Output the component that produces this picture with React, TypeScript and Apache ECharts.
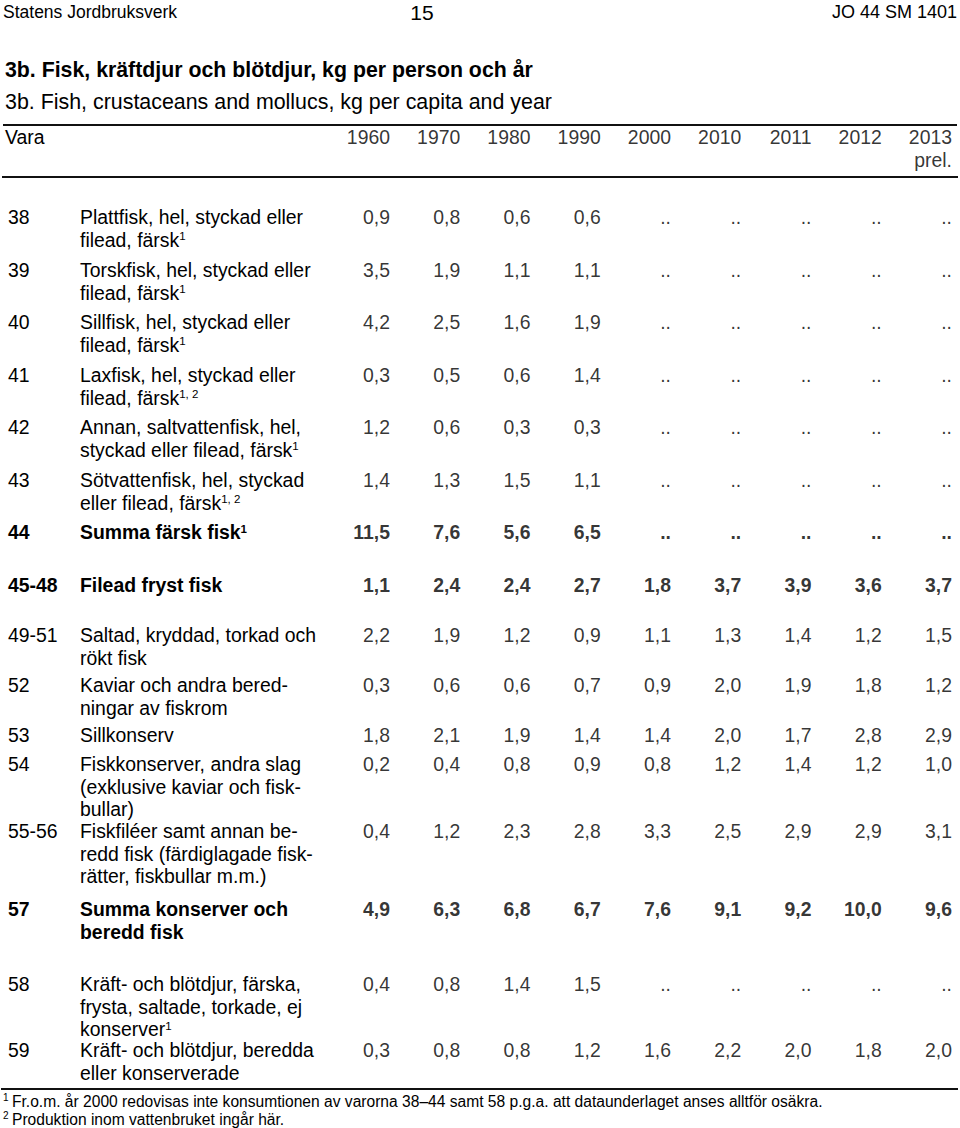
import React, { useEffect, useRef } from "react";
import * as echarts from "echarts";

// ---------- data ----------
const years = ["1960", "1970", "1980", "1990", "2000", "2010", "2011", "2012", "2013"];
const yearNotes = ["", "", "", "", "", "", "", "", "prel."];

const codes = ["38", "39", "40", "41", "42", "43", "44", "45-48", "49-51", "52", "53", "54", "55-56", "57", "58", "59"];

const itemLines = [
  ["Plattfisk, hel, styckad eller", "filead, färsk"],
  ["Torskfisk, hel, styckad eller", "filead, färsk"],
  ["Sillfisk, hel, styckad eller", "filead, färsk"],
  ["Laxfisk, hel, styckad eller", "filead, färsk"],
  ["Annan, saltvattenfisk, hel,", "styckad eller filead, färsk"],
  ["Sötvattenfisk, hel, styckad", "eller filead, färsk"],
  ["Summa färsk fisk"],
  ["Filead fryst fisk"],
  ["Saltad, kryddad, torkad och", "rökt fisk"],
  ["Kaviar och andra bered-", "ningar av fiskrom"],
  ["Sillkonserv"],
  ["Fiskkonserver, andra slag", "(exklusive kaviar och fisk-", "bullar)"],
  ["Fiskfiléer samt annan be-", "redd fisk (färdiglagade fisk-", "rätter, fiskbullar m.m.)"],
  ["Summa konserver och", "beredd fisk"],
  ["Kräft- och blötdjur, färska,", "frysta, saltade, torkade, ej", "konserver"],
  ["Kräft- och blötdjur, beredda", "eller konserverade"],
];
const itemNotes = ["1", "1", "1", "1, 2", "1", "1, 2", "1", "", "", "", "", "", "", "", "1", ""];
const boldCodes = ["44", "45-48", "57"];

const v38 = [0.9, 0.8, 0.6, 0.6, null, null, null, null, null];
const v39 = [3.5, 1.9, 1.1, 1.1, null, null, null, null, null];
const v40 = [4.2, 2.5, 1.6, 1.9, null, null, null, null, null];
const v41 = [0.3, 0.5, 0.6, 1.4, null, null, null, null, null];
const v42 = [1.2, 0.6, 0.3, 0.3, null, null, null, null, null];
const v43 = [1.4, 1.3, 1.5, 1.1, null, null, null, null, null];
const v44 = [11.5, 7.6, 5.6, 6.5, null, null, null, null, null];
const v45_48 = [1.1, 2.4, 2.4, 2.7, 1.8, 3.7, 3.9, 3.6, 3.7];
const v49_51 = [2.2, 1.9, 1.2, 0.9, 1.1, 1.3, 1.4, 1.2, 1.5];
const v52 = [0.3, 0.6, 0.6, 0.7, 0.9, 2.0, 1.9, 1.8, 1.2];
const v53 = [1.8, 2.1, 1.9, 1.4, 1.4, 2.0, 1.7, 2.8, 2.9];
const v54 = [0.2, 0.4, 0.8, 0.9, 0.8, 1.2, 1.4, 1.2, 1.0];
const v55_56 = [0.4, 1.2, 2.3, 2.8, 3.3, 2.5, 2.9, 2.9, 3.1];
const v57 = [4.9, 6.3, 6.8, 6.7, 7.6, 9.1, 9.2, 10.0, 9.6];
const v58 = [0.4, 0.8, 1.4, 1.5, null, null, null, null, null];
const v59 = [0.3, 0.8, 0.8, 1.2, 1.6, 2.2, 2.0, 1.8, 2.0];
const rowValues = [v38, v39, v40, v41, v42, v43, v44, v45_48, v49_51, v52, v53, v54, v55_56, v57, v58, v59];

const pageLeft = "Statens Jordbruksverk";
const pageNumber = "15";
const pageRight = "JO 44 SM 1401";
const titleSv = "3b. Fisk, kräftdjur och blötdjur, kg per person och år";
const titleEn = "3b. Fish, crustaceans and mollucs, kg per capita and year";
const headLabel = "Vara";
const footnotes = [
  ["1", "Fr.o.m. år 2000 redovisas inte konsumtionen av varorna 38\u201344 samt 58 p.g.a. att dataunderlaget anses alltför osäkra."],
  ["2", "Produktion inom vattenbruket ingår här."],
];

// ---------- layout ----------
const W = 960;
const H = 1128;
const FONT = '"Liberation Sans", Arial, Helvetica, sans-serif';
const BODY = 19.4;
const rowY = [217, 270, 322, 375, 427, 480, 532, 585, 635, 685, 735, 764, 831, 909, 984, 1050];
const LINE_GAP = 22.5;

function fmt(v: number | null) {
  return v == null ? ".." : v.toFixed(1).replace(".", ",");
}

function txt(x: number, y: number, text: string, o: any = {}) {
  const align = o.align || "left";
  return {
    type: "text",
    x,
    y,
    silent: true,
    style: {
      text,
      fill: "#000",
      fontSize: o.size || BODY,
      fontFamily: FONT,
      fontWeight: o.bold ? "bold" : "normal",
      align,
      textAlign: align,
      verticalAlign: "middle",
      textVerticalAlign: "middle",
      rich: {
        sup: {
          fontSize: o.supSize || 11.5,
          fontFamily: FONT,
          fontWeight: o.bold ? "bold" : "normal",
          fill: "#000",
          verticalAlign: "top",
          lineHeight: 11,
        },
      },
    },
  };
}

function rule(y: number, x1: number, x2: number) {
  return {
    type: "line",
    silent: true,
    shape: { x1, y1: y, x2, y2: y },
    style: { stroke: "#111", lineWidth: 2 },
  };
}

export default function App() {
  const ref = useRef<HTMLDivElement>(null);

  useEffect(() => {
    if (!ref.current) return;
    const chart = echarts.init(ref.current, null, { renderer: "svg" });

    const graphics: any[] = [];
    graphics.push(txt(3, 12, pageLeft, { size: 17.5 }));
    graphics.push(txt(422, 12, pageNumber, { size: 21, align: "center" }));
    graphics.push(txt(957, 12, pageRight, { size: 18, align: "right" }));
    graphics.push(txt(5, 70, titleSv, { size: 21.3, bold: true }));
    graphics.push(txt(5, 102, titleEn, { size: 21.4 }));
    graphics.push(rule(125, 3, 957));
    graphics.push(txt(5, 137, headLabel, { size: BODY }));
    graphics.push(rule(177, 2, 958));

    codes.forEach((code, r) => {
      const bold = boldCodes.includes(code);
      graphics.push(txt(8, rowY[r], code, { bold }));
      const lines = itemLines[r];
      lines.forEach((line, li) => {
        const note = li === lines.length - 1 && itemNotes[r] ? `{sup|${itemNotes[r]}}` : "";
        graphics.push(txt(80, rowY[r] + li * LINE_GAP, line + note, { bold }));
      });
    });

    graphics.push(rule(1089, 1, 958));
    footnotes.forEach(([mark, text], i) => {
      const y = 1101 + i * 18;
      graphics.push(txt(3, y - 4, mark, { size: 10 }));
      graphics.push(txt(12, y, text, { size: 15.6 }));
    });

    const cellData: any[] = [];
    rowValues.forEach((vals, r) => {
      const bold = boldCodes.includes(codes[r]);
      vals.forEach((v, c) => {
        cellData.push({
          value: [c, rowY[r]],
          text: fmt(v),
          label: { fontWeight: bold ? "bold" : "normal" },
        });
      });
    });

    const headData: any[] = [];
    years.forEach((y, c) => {
      headData.push({ value: [c, 137], text: y });
      if (yearNotes[c]) headData.push({ value: [c, 160], text: yearNotes[c] });
    });

    const labelBase = {
      show: true,
      position: "inside",
      align: "right",
      verticalAlign: "middle",
      color: "#000",
      fontSize: BODY,
      fontFamily: FONT,
      formatter: (p: any) => p.data.text,
    };

    chart.setOption({
      animation: false,
      backgroundColor: "#fff",
      grid: { left: 390, right: 8, top: 0, bottom: 0 },
      xAxis: {
        type: "category",
        data: years,
        boundaryGap: false,
        show: false,
      },
      yAxis: {
        type: "value",
        min: 0,
        max: H,
        inverse: true,
        show: false,
      },
      series: [
        {
          type: "scatter",
          name: "values",
          symbolSize: 1,
          itemStyle: { color: "rgba(0,0,0,0)" },
          label: labelBase,
          data: cellData,
          silent: true,
        },
        {
          type: "scatter",
          name: "years",
          symbolSize: 1,
          itemStyle: { color: "rgba(0,0,0,0)" },
          label: labelBase,
          data: headData,
          silent: true,
        },
      ],
      graphic: { elements: graphics },
    });

    return () => chart.dispose();
  }, []);

  return (
    <div
      ref={ref}
      style={{ position: "absolute", left: 0, top: 0, width: W, height: H, background: "#fff" }}
    />
  );
}
